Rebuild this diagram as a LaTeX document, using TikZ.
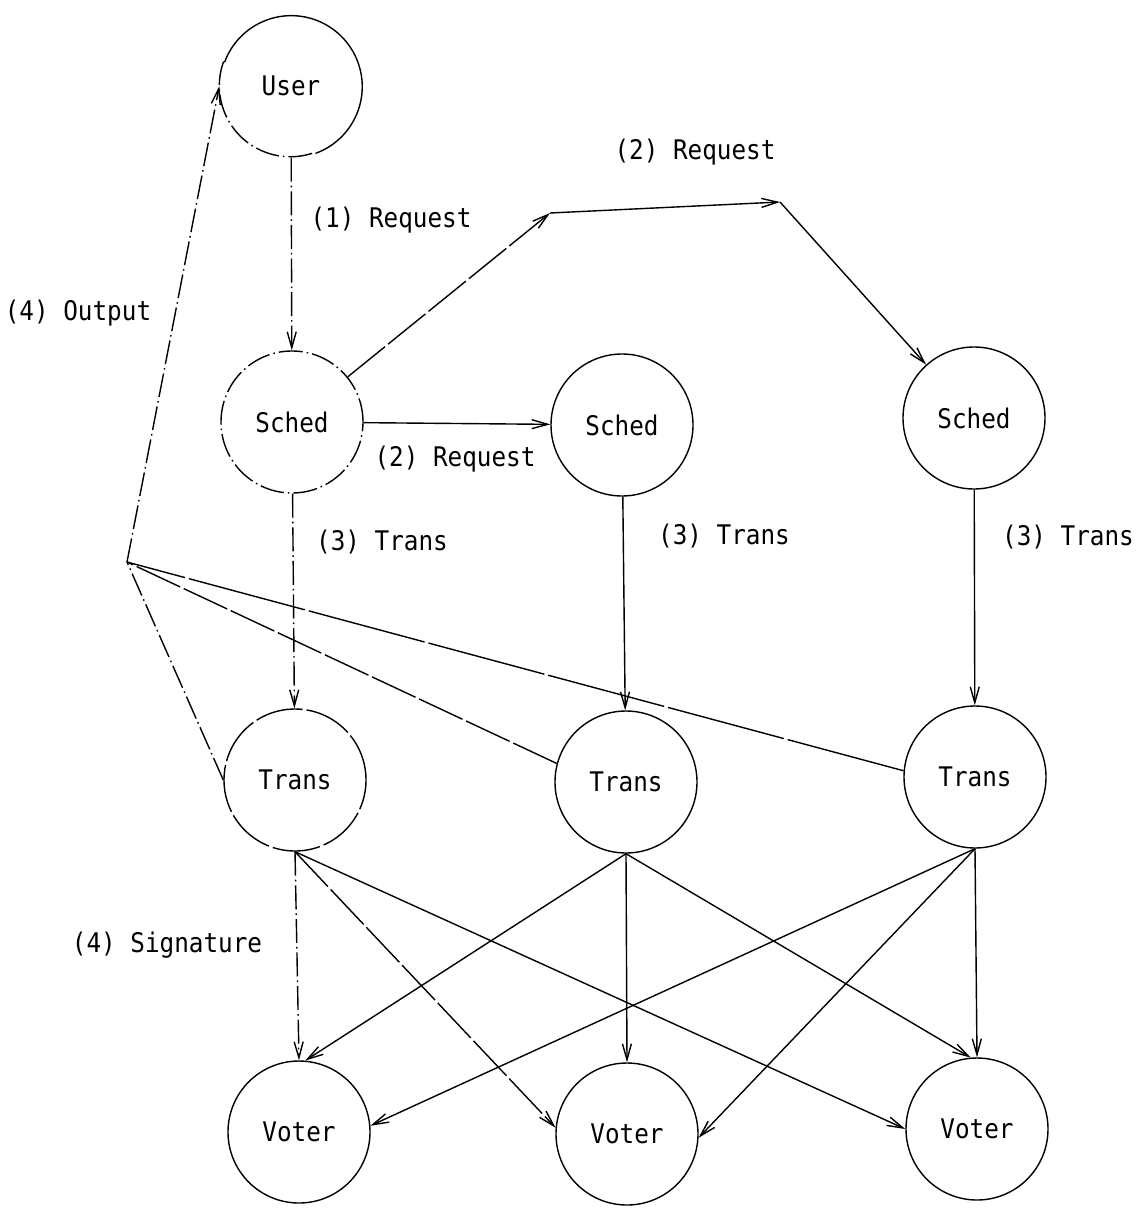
\documentclass[tikz,border=0pt]{standalone}
\usepackage{fontspec}
\setmainfont[FakeStretch=0.9]{DejaVu Sans Mono}
\usetikzlibrary{arrows.meta}
\begin{document}
\begin{tikzpicture}[x=0.5pt,y=-0.5pt,
  every node/.style={font=\fontsize{13.5}{15}\selectfont},
  st/.style={circle, minimum size=71pt, inner sep=0pt, draw, line width=0.7pt},
  ar/.style={-{Straight Barb[length=8pt,width=4.5pt]}, line width=0.7pt},
  ln/.style={line width=0.7pt},
  dd/.style={dash pattern=on 12pt off 2pt on 0.8pt off 2pt},
  ld/.style={dash pattern=on 24pt off 2pt},
  vd/.style={dash pattern=on 60pt off 2pt}]
\useasboundingbox (0,0) rectangle (1142,1210);
\fill[white] (0,0) rectangle (1142,1210);

% nodes
\node[st, draw=none] (User) at (291,86) {User};
\draw[ln] (User.-70) arc[start angle=-70, end angle=160, radius=35.5pt];
\draw[ln,dd] (User.160) arc[start angle=160, end angle=290, radius=35.5pt];
\node[st, dd] (S1) at (292,422) {Sched};
\node[st] (S2) at (622,425) {Sched};
\node[st] (S3) at (974,418) {Sched};
\node[st, ld] (T1) at (295,780) {Trans};
\node[st] (T2) at (626,782) {Trans};
\node[st] (T3) at (975,777) {Trans};
\node[st] (V1) at (299,1132) {Voter};
\node[st] (V2) at (627,1134) {Voter};
\node[st] (V3) at (977,1129) {Voter};

\coordinate (C) at (127,562);
\coordinate (B1) at (550,213);
\coordinate (B2) at (780,202);

% requests
\draw[ar,dd] (User) -- (S1);
\draw[ar] (S1) -- (S2);
\draw[ar,ld] (S1) -- (B1);
\draw[ar] (B1) -- (B2);
\draw[ar] (B2) -- (S3);

% trans
\draw[ar,dd] (S1) -- (T1);
\draw[ar] (S2) -- (T2);
\draw[ar] (S3) -- (T3);

% output
\draw[ln,dd] (T1.180) -- (C);
\draw[ln,ld] (T2.165) -- (C);
\draw[ln,vd] (T3.175) -- (C);
\draw[ar,dd] (C) -- (User.west);

% signatures
\draw[ar,dd] (T1.south) -- (V1.north);
\draw[ar,ld] (T1.south) -- (V2.175);
\draw[ar] (T1.south) -- (V3.west);
\draw[ar] (T2.south) -- (V1.85);
\draw[ar] (T2.south) -- (V2.north);
\draw[ar] (T2.south) -- (V3.95);
\draw[ar] (T3.south) -- (V1.5);
\draw[ar] (T3.south) -- (V2.-3);
\draw[ar] (T3.south) -- (V3.north);

% labels
\node (l1) at (391,220) {(1) Request};
\node (l2a) at (695,152) {(2) Request};
\node (l2b) at (455,459) {(2) Request};
\node (l3a) at (382,542) {(3) Trans};
\node (l3b) at (724,536) {(3) Trans};
\node (l3c) at (1068,537) {(3) Trans};
\node (l4a) at (78,313) {(4) Output};
\node (l4b) at (167,945) {(4) Signature};
\end{tikzpicture}
\end{document}
